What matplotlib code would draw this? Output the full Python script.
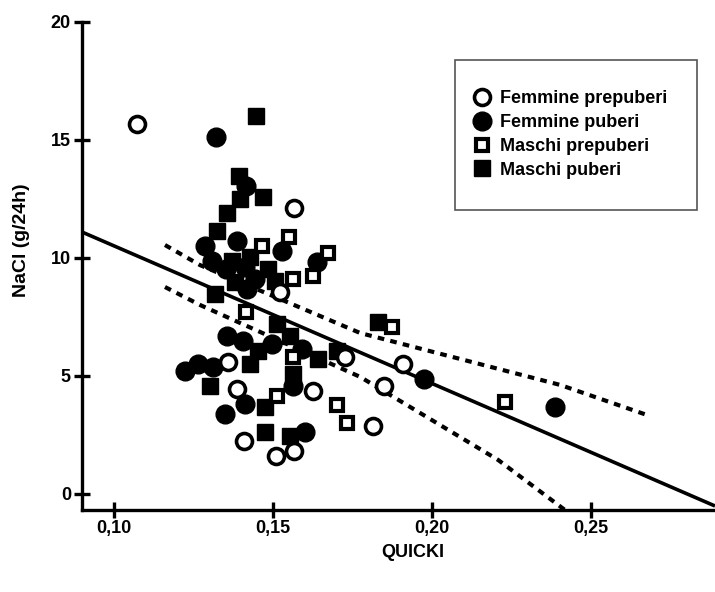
import numpy as np
import matplotlib
matplotlib.use("Agg")
import matplotlib.pyplot as plt
from matplotlib.lines import Line2D
from matplotlib.patches import Rectangle
from matplotlib.ticker import FuncFormatter

plt.rcParams['font.family'] = ['Liberation Sans', 'DejaVu Sans']
plt.rcParams['font.weight'] = 'bold'

# Femmine prepuberi (open circles)
fp_x = [0.1072, 0.1566, 0.1523, 0.1358, 0.1387, 0.1625, 0.1727, 0.1409, 0.1509, 0.1566, 0.1909, 0.1849, 0.1815]
fp_y = [15.68, 12.12, 8.56, 5.59, 4.45, 4.36, 5.81, 2.25, 1.61, 1.82, 5.51, 4.58, 2.88]

# Femmine puberi (filled circles)
fpu_x = [0.1321, 0.1415, 0.1286, 0.1387, 0.1529, 0.1639, 0.1308, 0.1352, 0.1411, 0.1443, 0.1419,
         0.1355, 0.1405, 0.1497, 0.1591, 0.1223, 0.1264, 0.1311, 0.1562, 0.1411, 0.1349, 0.1601,
         0.1975, 0.2387]
fpu_y = [15.13, 13.05, 10.51, 10.72, 10.30, 9.83, 9.87, 9.53, 9.62, 9.11, 8.69,
         6.69, 6.48, 6.36, 6.14, 5.21, 5.51, 5.38, 4.58, 3.81, 3.39, 2.63,
         4.87, 3.69]

# Maschi prepuberi (open squares)
mp_x = [0.1466, 0.1550, 0.1674, 0.1625, 0.1562, 0.1415, 0.1562, 0.1513, 0.1701, 0.1733, 0.1874, 0.2229]
mp_y = [10.51, 10.89, 10.21, 9.24, 9.11, 7.71, 5.81, 4.15, 3.77, 3.01, 7.08, 3.90]

# Maschi puberi (filled squares)
mpu_x = [0.1447, 0.1393, 0.1468, 0.1396, 0.1355, 0.1323, 0.1372, 0.1427, 0.1484, 0.1380, 0.1506,
         0.1317, 0.1513, 0.1554, 0.1453, 0.1641, 0.1701, 0.1427, 0.1302, 0.1562, 0.1474, 0.1474,
         0.1554, 0.1831]
mpu_y = [16.02, 13.47, 12.58, 12.50, 11.91, 11.14, 9.87, 10.04, 9.53, 8.98, 9.03,
         8.47, 7.20, 6.69, 6.06, 5.72, 6.06, 5.51, 4.58, 5.08, 3.69, 2.63,
         2.46, 7.29]

# regression line and 95% band
fit_x = [0.0899, 0.2890]
fit_y = [11.10, -0.51]
upper_x = [0.1160, 0.1270, 0.1774, 0.2403, 0.2686]
upper_y = [10.55, 9.70, 6.82, 4.62, 3.30]
lower_x = [0.1160, 0.1270, 0.1774, 0.2208, 0.2418]
lower_y = [8.77, 8.01, 4.96, 1.44, -0.68]

labels = ["Femmine prepuberi", "Femmine puberi", "Maschi prepuberi", "Maschi puberi"]

W, H = 715, 592
fig = plt.figure(figsize=(W / 100, H / 100), dpi=100)
ax = fig.add_axes([82 / W, (H - 510) / H, (W - 82) / W, 488 / H])

ax.plot(fit_x, fit_y, color='black', lw=2.6, solid_capstyle='butt', zorder=2)
ax.plot(upper_x, upper_y, color='black', lw=3, ls=(0, (1.6, 1.5)), dash_capstyle='butt', zorder=2)
ax.plot(lower_x, lower_y, color='black', lw=3, ls=(0, (1.6, 1.5)), dash_capstyle='butt', zorder=2)

ax.plot(fpu_x, fpu_y, 'o', ms=13.5, mfc='black', mec='black', mew=1, zorder=3)
ax.plot(mpu_x, mpu_y, 's', ms=11, mfc='black', mec='black', mew=1, zorder=3)
ax.plot(fp_x, fp_y, 'o', ms=11.5, mfc='white', mec='black', mew=2.6, zorder=4)
ax.plot(mp_x, mp_y, 's', ms=8, mfc='white', mec='black', mew=3, zorder=4)

ax.set_xlim(0.0899, 0.2890)
ax.set_ylim(-0.68, 20)
ax.set_xticks([0.10, 0.15, 0.20, 0.25])
ax.set_yticks([0, 5, 10, 15, 20])
ax.xaxis.set_major_formatter(FuncFormatter(lambda v, p: f"{v:.2f}".replace('.', ',')))
ax.yaxis.set_major_formatter(FuncFormatter(lambda v, p: f"{v:.0f}"))

for s in ['top', 'right']:
    ax.spines[s].set_visible(False)
for s in ['left', 'bottom']:
    ax.spines[s].set_linewidth(2.4)
ax.tick_params(direction='inout', length=12, width=2.4, labelsize=13)
ax.tick_params(axis='x', pad=1)
ax.tick_params(axis='y', pad=2)
for lab in ax.get_xticklabels() + ax.get_yticklabels():
    lab.set_fontweight('bold')

ax.set_xlabel("QUICKI", fontsize=13, fontweight='bold')
ax.set_ylabel("NaCl (g/24h)", fontsize=14, fontweight='bold')
ax.xaxis.set_label_coords((413 - 82) / 633, (510 - 544) / 488)
ax.yaxis.set_label_coords((30 - 82) / 633, (510 - 240) / 488)

# legend box
fig.add_artist(Rectangle((455 / W, 1 - 210 / H), 242 / W, 150 / H, transform=fig.transFigure,
                         facecolor='white', edgecolor='#555555', lw=1.2, zorder=5))
handles = [
    Line2D([], [], ls='none', marker='o', ms=11.5, mfc='white', mec='black', mew=2.6),
    Line2D([], [], ls='none', marker='o', ms=13.5, mfc='black', mec='black'),
    Line2D([], [], ls='none', marker='s', ms=8, mfc='white', mec='black', mew=3),
    Line2D([], [], ls='none', marker='s', ms=11, mfc='black', mec='black'),
]
leg = fig.legend(handles, labels, loc='center left', bbox_to_anchor=(473 / W, 1 - 134.5 / H),
                 frameon=False, prop={'weight': 'bold', 'size': 13},
                 handlelength=1.0, handletextpad=0.5, labelspacing=0.38,
                 borderpad=0, borderaxespad=0)
leg.set_zorder(6)

fig.savefig("out.png", dpi=100)
